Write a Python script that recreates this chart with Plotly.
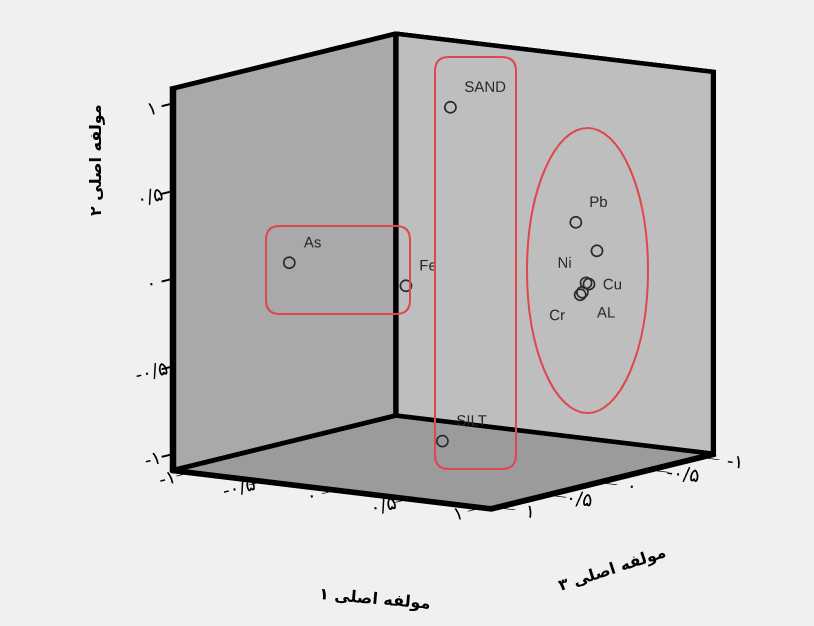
import plotly.graph_objects as go

# Component loadings (comp1, comp2, comp3)
labels = ["SAND", "SILT", "As", "Fe", "Pb", "", "Ni", "Cu", "AL", "Cr"]
comp1 = [0.08, -0.01, -0.64, 0.23, 0.94, 0.98, 0.94, 0.96, 0.95, 0.97]
comp2 = [0.95, -0.97, 0.07, 0.04, 0.38, 0.20, 0.02, 0.015, -0.025, -0.03]
comp3 = [0.05, 0.00, 0.60, 0.70, 0.05, -0.10, -0.05, -0.05, 0.00, 0.05]
text_pos = ["top right", "top right", "top right", "top right", "top right",
            "top right", "top left", "middle right", "bottom right", "bottom left"]

tick_vals = [-1, -0.5, 0, 0.5, 1]
tick_text = ["-۱", "-۰/۵", "۰", "۰/۵", "۱"]
title1 = "مولفه اصلی ۱"
title2 = "مولفه اصلی ۲"
title3 = "مولفه اصلی ۳"

LO, HI = -1.1, 1.1  # axis range shared by all three components
T = 0.022           # thickness of the drawn box edges (data units)
TL = 0.07           # tick length (data units)
TW = 0.009          # half tick width (data units)

fig = go.Figure()

# thick box edges as thin prisms lying just inside the axis range
edges = [
    ((LO, LO, LO), (LO, LO, HI)),   # back vertical
    ((HI, LO, LO), (HI, LO, HI)),   # left vertical
    ((LO, HI, LO), (LO, HI, HI)),   # right vertical
    ((HI, LO, HI), (LO, LO, HI)),   # top left
    ((LO, LO, HI), (LO, HI, HI)),   # top right
    ((HI, LO, LO), (LO, LO, LO)),   # floor back left
    ((LO, LO, LO), (LO, HI, LO)),   # floor back right
    ((HI, LO, LO), (HI, HI, LO)),   # component 1 axis
    ((HI, HI, LO), (LO, HI, LO)),   # component 3 axis
]
boxes = []
for a, b in edges:
    lo = [min(a[d], b[d]) for d in range(3)]
    hi = [max(a[d], b[d]) for d in range(3)]
    for d in range(3):
        if lo[d] == hi[d]:
            if lo[d] == HI:
                lo[d] = HI - T
            else:
                hi[d] = LO + T
    boxes.append((lo, hi))

# tick marks built from tick_vals
for v in tick_vals:
    # component 2 (z) ticks on the left vertical edge, pointing outward (-y)
    boxes.append(([HI - 2 * TW, LO - TL, v - TW], [HI, LO, v + TW]))
    # component 1 (y) ticks on the front-left floor edge, pointing down
    boxes.append(([HI - 2 * TW, v - TW, LO - TL], [HI, v + TW, LO]))
    # component 3 (x) ticks on the front-right floor edge, pointing down
    boxes.append(([v - TW, HI - 2 * TW, LO - TL], [v + TW, HI, LO]))

vx, vy, vz, ii, jj, kk = [], [], [], [], [], []
faces = [(0, 1, 2), (0, 2, 3), (4, 5, 6), (4, 6, 7), (0, 1, 5), (0, 5, 4),
         (1, 2, 6), (1, 6, 5), (2, 3, 7), (2, 7, 6), (3, 0, 4), (3, 4, 7)]
for lo, hi in boxes:
    base = len(vx)
    corners = [(lo[0], lo[1], lo[2]), (hi[0], lo[1], lo[2]), (hi[0], hi[1], lo[2]), (lo[0], hi[1], lo[2]),
               (lo[0], lo[1], hi[2]), (hi[0], lo[1], hi[2]), (hi[0], hi[1], hi[2]), (lo[0], hi[1], hi[2])]
    for c in corners:
        vx.append(c[0]); vy.append(c[1]); vz.append(c[2])
    for f in faces:
        ii.append(base + f[0]); jj.append(base + f[1]); kk.append(base + f[2])

fig.add_trace(go.Mesh3d(
    x=vx, y=vy, z=vz, i=ii, j=jj, k=kk,
    color="black", flatshading=True,
    lighting=dict(ambient=1, diffuse=0, specular=0, roughness=1, fresnel=0),
    hoverinfo="skip", showscale=False,
))

fig.add_trace(go.Scatter3d(
    x=comp3, y=comp1, z=comp2,
    mode="markers+text",
    text=labels,
    textposition=text_pos,
    textfont=dict(family="Liberation Sans, Arial", size=15, color="#2a2a2a"),
    marker=dict(symbol="circle-open", size=7, color="#2a2a2a",
                line=dict(color="#2a2a2a", width=2)),
    hoverinfo="skip", showlegend=False,
))

def ax(bg):
    return dict(
        range=[LO, HI], tickvals=tick_vals, ticktext=tick_text,
        showgrid=False, zeroline=False, showspikes=False,
        showbackground=True, backgroundcolor=bg,
        showline=True, linecolor="black", linewidth=4, mirror=False,
        ticks="outside", ticklen=16, tickwidth=4, tickcolor="black",
        tickfont=dict(family="DejaVu Sans", size=15, color="black"),
        title=dict(text=""),
    )

eye_dir = (0.807, 0.565, 0.172)
r = 1.6
s = 1.445
fig.update_layout(
    width=814, height=626,
    margin=dict(l=0, r=0, t=0, b=0),
    paper_bgcolor="#f0f0f0",
    showlegend=False,
    scene=dict(
        domain=dict(x=[0.09, 1.0], y=[0.134, 1.0]),
        xaxis=ax("#bebebe"),
        yaxis=ax("#a9a9a9"),
        zaxis=ax("#9b9b9b"),
        aspectmode="manual", aspectratio=dict(x=s, y=s, z=s),
        camera=dict(
            eye=dict(x=eye_dir[0] * r, y=eye_dir[1] * r, z=eye_dir[2] * r),
            up=dict(x=0, y=0, z=1),
            center=dict(x=0, y=0, z=0),
            projection=dict(type="orthographic"),
        ),
    ),
)

def px(x, y):
    return x / 814, 1 - y / 626

def rounded_rect(x0, y0, x1, y1, rad):
    pts = []
    a = px(x0 + rad, y0); pts.append(f"M {a[0]},{a[1]}")
    b = px(x1 - rad, y0); pts.append(f"L {b[0]},{b[1]}")
    c = px(x1, y0); d = px(x1, y0 + rad); pts.append(f"Q {c[0]},{c[1]} {d[0]},{d[1]}")
    e = px(x1, y1 - rad); pts.append(f"L {e[0]},{e[1]}")
    f = px(x1, y1); g = px(x1 - rad, y1); pts.append(f"Q {f[0]},{f[1]} {g[0]},{g[1]}")
    h = px(x0 + rad, y1); pts.append(f"L {h[0]},{h[1]}")
    i = px(x0, y1); j = px(x0, y1 - rad); pts.append(f"Q {i[0]},{i[1]} {j[0]},{j[1]}")
    k = px(x0, y0 + rad); pts.append(f"L {k[0]},{k[1]}")
    l = px(x0, y0); pts.append(f"Q {l[0]},{l[1]} {a[0]},{a[1]} Z")
    return " ".join(pts)

red = "#e0474c"
fig.add_shape(type="path", xref="paper", yref="paper",
              path=rounded_rect(266, 226, 410, 314, 14), line=dict(color=red, width=2))
fig.add_shape(type="path", xref="paper", yref="paper",
              path=rounded_rect(435, 57, 516, 469, 14), line=dict(color=red, width=2))
e0 = px(527, 128); e1 = px(648, 413)
fig.add_shape(type="circle", xref="paper", yref="paper",
              x0=e0[0], y0=e1[1], x1=e1[0], y1=e0[1], line=dict(color=red, width=2))

afont = dict(family="DejaVu Sans", size=16, color="black")
for (cx, cy), txt, ang in [((375, 598), title1, 5), ((95, 160), title2, -90), ((612, 568), title3, -18)]:
    p = px(cx, cy)
    fig.add_annotation(x=p[0], y=p[1], xref="paper", yref="paper", text="<b>" + txt + "</b>",
                       xanchor="center", yanchor="middle",
                       showarrow=False, font=afont, textangle=ang)

fig.write_html("out.html", config={"displayModeBar": False},
               post_script="document.body.style.margin='0';document.body.style.background='#f0f0f0';")
